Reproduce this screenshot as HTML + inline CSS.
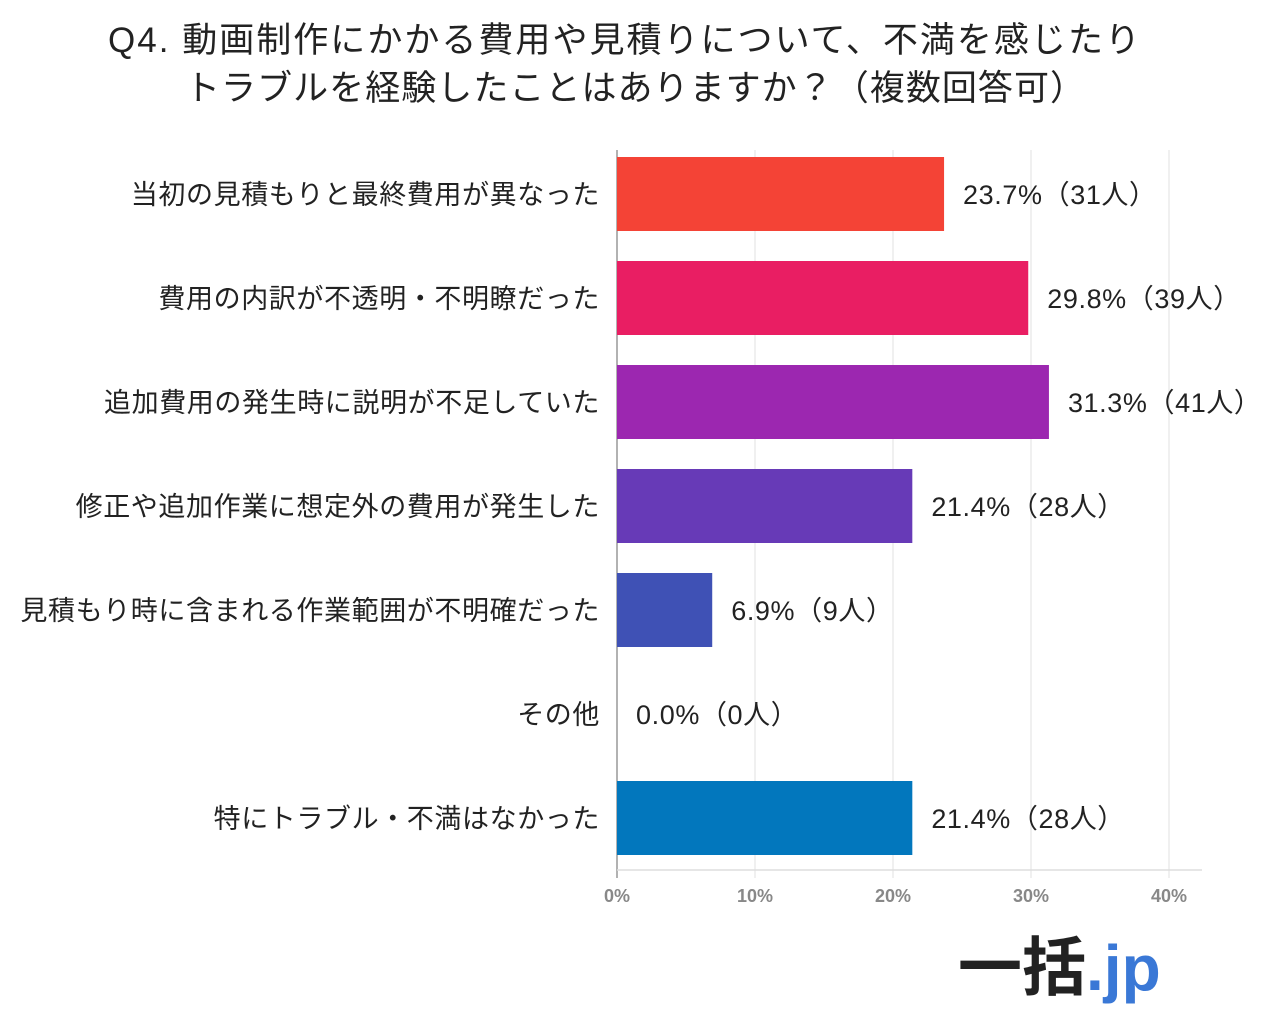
<!DOCTYPE html>
<html><head><meta charset="utf-8">
<style>
body{margin:0;background:#fff;width:1280px;height:1020px;overflow:hidden;font-family:"Liberation Sans","Noto Sans CJK JP",sans-serif;}
svg text{font-family:"Liberation Sans","Noto Sans CJK JP",sans-serif;}
</style></head>
<body>
<svg id="chart" width="1280" height="1020" xmlns="http://www.w3.org/2000/svg">
<text x="108" y="52" textLength="1032" lengthAdjust="spacing" font-size="35" fill="#222">Q4. 動画制作にかかる費用や見積りについて、不満を感じたり</text>
<text x="185" y="100" textLength="900" lengthAdjust="spacing" font-size="35" fill="#222">トラブルを経験したことはありますか？（複数回答可）</text>
<g id="grid"></g>
<g id="bars"></g>
<g id="ticks"></g>
<g>
<text x="958" y="990" font-size="64" font-weight="bold" fill="#222">一括<tspan fill="#3a78d6">.jp</tspan></text>
</g>
</svg>
<script>
const categories = ["当初の見積もりと最終費用が異なった","費用の内訳が不透明・不明瞭だった","追加費用の発生時に説明が不足していた","修正や追加作業に想定外の費用が発生した","見積もり時に含まれる作業範囲が不明確だった","その他","特にトラブル・不満はなかった"];
const values = [23.7, 29.8, 31.3, 21.4, 6.9, 0.0, 21.4];
const counts = [31, 39, 41, 28, 9, 0, 28];
const tickValues = [0, 10, 20, 30, 40];
const colors = ["#f44336","#e91e63","#9c27b0","#673ab7","#3f51b5","#03a9f4","#0277bd"];

const NS = "http://www.w3.org/2000/svg";
const x0 = 617, pxPer = 13.8;
function xScale(v){ return x0 + v * pxPer; }
function yCenter(i){ return 194 + i * 104; }
const barH = 74;

const grid = document.getElementById('grid');
const ticks = document.getElementById('ticks');
tickValues.forEach(t => {
  const l = document.createElementNS(NS,'line');
  
  
  l.setAttribute('x1',xScale(t)); l.setAttribute('x2',xScale(t));
  l.setAttribute('y1',150); l.setAttribute('y2',878);
  l.setAttribute('stroke', t===0 ? '#999' : '#e2e2e2'); l.setAttribute('stroke-width', t===0?1.5:1);
  grid.appendChild(l);
  const tx = document.createElementNS(NS,'text');
  
  
  tx.setAttribute('x',xScale(t)); tx.setAttribute('y',902);
  tx.setAttribute('text-anchor','middle'); tx.setAttribute('font-size','18'); tx.setAttribute('font-weight','bold'); tx.setAttribute('fill','#888');
  tx.textContent = t + '%';
  ticks.appendChild(tx);
});
const axis = document.createElementNS(NS,'line');


axis.setAttribute('x1',x0); axis.setAttribute('x2',1202); axis.setAttribute('y1',870); axis.setAttribute('y2',870);
axis.setAttribute('stroke','#ddd'); axis.setAttribute('stroke-width','1.5');
grid.appendChild(axis);

const bars = document.getElementById('bars');
categories.forEach((c,i) => {
  const yc = yCenter(i);
  const w = xScale(values[i]) - x0;
  if (w > 0) {
    const r = document.createElementNS(NS,'rect');
    
    
    r.setAttribute('x',x0); r.setAttribute('y',yc-barH/2);
    r.setAttribute('width',w); r.setAttribute('height',barH);
    r.setAttribute('fill',colors[i]);
    bars.appendChild(r);
  }
  const lab = document.createElementNS(NS,'text');
  
  
  lab.setAttribute('x',600); lab.setAttribute('y',yc+10);
  lab.setAttribute('text-anchor','end'); lab.setAttribute('font-size','27'); lab.setAttribute('fill','#222');
  lab.setAttribute('letter-spacing','0.6');
  lab.textContent = c;
  bars.appendChild(lab);
  const v = document.createElementNS(NS,'text');
  
  
  v.setAttribute('x',xScale(values[i]) + 19); v.setAttribute('y',yc+10);
  v.setAttribute('font-size','27'); v.setAttribute('fill','#222');
  v.setAttribute('letter-spacing','0.6');
  v.textContent = values[i].toFixed(1) + '%（' + counts[i] + '人）';
  bars.appendChild(v);
});
</script>
</body></html>
